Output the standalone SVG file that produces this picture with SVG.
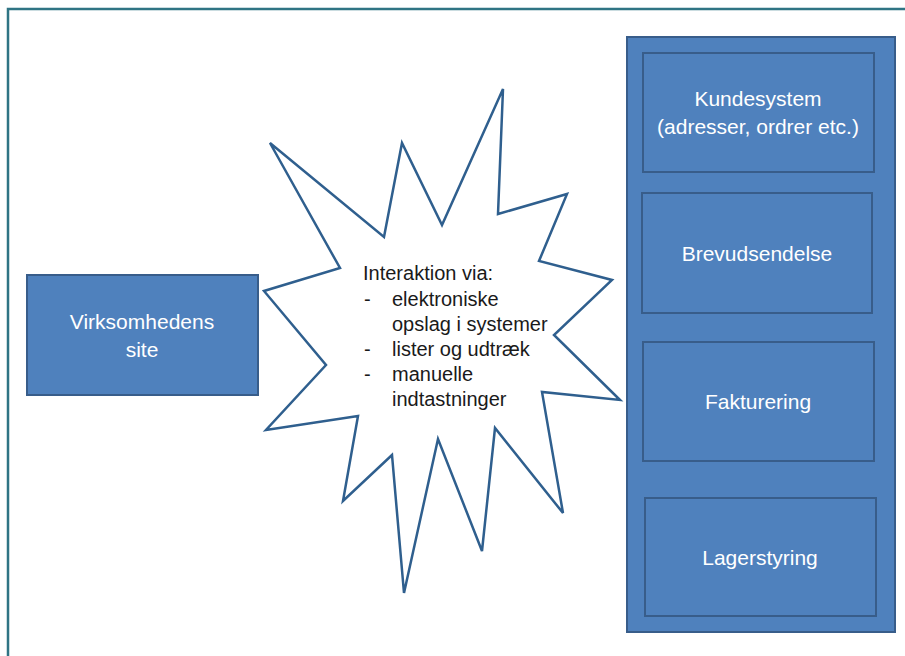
<svg xmlns="http://www.w3.org/2000/svg" width="905" height="656" viewBox="0 0 905 656">
  <style>
    .box { fill: #4f81bd; stroke: #385d8a; stroke-width: 2; }
    .lbl { font-family: "Liberation Sans", Arial, sans-serif; font-size: 21px; fill: #ffffff; text-anchor: middle; }
    .star { fill: #ffffff; stroke: #2f5f8e; stroke-width: 2.5; stroke-linejoin: miter; }
    .st { font-family: "Liberation Sans", Arial, sans-serif; font-size: 20px; fill: #1a1a1a; }
  </style>
  <rect x="0" y="0" width="905" height="656" fill="#ffffff"/>
  <!-- page frame -->
  <rect x="8" y="9" width="920" height="680" fill="none" stroke="#2f7484" stroke-width="2.5"/>

  <g id="site">
    <rect class="box" x="27" y="275" width="231" height="120"/>
    <text class="lbl" x="142" y="329">Virksomhedens</text>
    <text class="lbl" x="142" y="357">site</text>
  </g>

  <g id="interaktion">
    <polygon class="star" points="503,89 498,214 567,194 539,261 612,280 554,335 620,400 542,392 563,513 495,428 482,551 438,439 404,593 392,455 343,501 358,416 266,430 326,365 264,291 340,268 270,143 384,237 402,143 442,225"/>
    <text class="st" x="363" y="280">Interaktion via:</text>
    <text class="st" x="364" y="306">-</text>
    <text class="st" x="392" y="306">elektroniske</text>
    <text class="st" x="392" y="331">opslag i systemer</text>
    <text class="st" x="364" y="356">-</text>
    <text class="st" x="392" y="356">lister og udtræk</text>
    <text class="st" x="364" y="381">-</text>
    <text class="st" x="392" y="381">manuelle</text>
    <text class="st" x="392" y="406">indtastninger</text>
  </g>

  <g id="systemer">
    <rect class="box" x="627" y="37" width="268" height="595"/>
  </g>
  <g id="kundesystem">
    <rect class="box" x="643" y="53" width="231" height="119"/>
    <text class="lbl" x="758" y="106">Kundesystem</text>
    <text class="lbl" x="758" y="134">(adresser, ordrer etc.)</text>
  </g>
  <g id="brevudsendelse">
    <rect class="box" x="642" y="193" width="230" height="120"/>
    <text class="lbl" x="757" y="261">Brevudsendelse</text>
  </g>
  <g id="fakturering">
    <rect class="box" x="643" y="342" width="231" height="119"/>
    <text class="lbl" x="758" y="409">Fakturering</text>
  </g>
  <g id="lagerstyring">
    <rect class="box" x="645" y="498" width="231" height="118"/>
    <text class="lbl" x="760" y="565">Lagerstyring</text>
  </g>

  <g id="connectors"/>
</svg>
